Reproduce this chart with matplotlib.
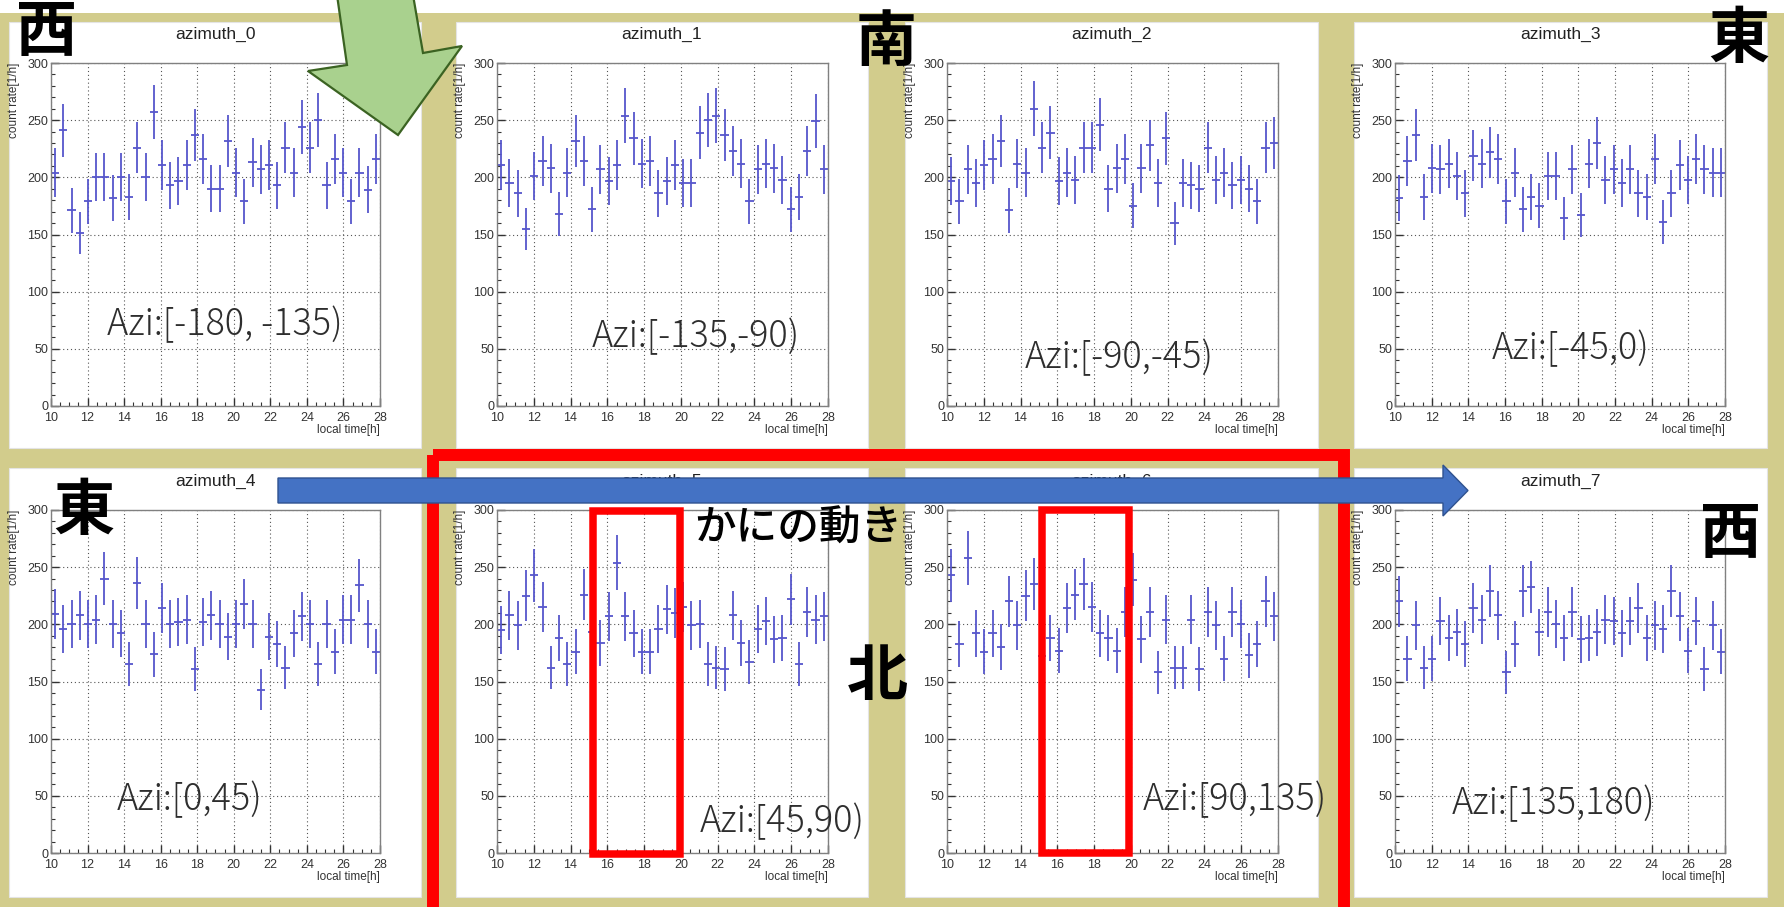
import numpy as np
import matplotlib
matplotlib.use("Agg")
import matplotlib.pyplot as plt
from matplotlib.patches import Rectangle, Polygon
from matplotlib.ticker import MultipleLocator

plt.rcParams['font.family'] = ['Liberation Sans', 'DejaVu Sans']

# count rate per 0.45 h bin, 40 bins from 10 h to 28 h
titles = ["azimuth_0", "azimuth_1", "azimuth_2", "azimuth_3",
          "azimuth_4", "azimuth_5", "azimuth_6", "azimuth_7"]
ranges = ["Azi:[-180, -135)", "Azi:[-135,-90)", "Azi:[-90,-45)", "Azi:[-45,0)",
          "Azi:[0,45)", "Azi:[45,90)", "Azi:[90,135)", "Azi:[135,180)"]

rate0 = [204, 241, 171, 151, 179, 200, 200, 182, 200, 183, 226, 200, 257, 211, 193, 197, 211, 237, 216, 190,
         190, 232, 204, 179, 213, 207, 211, 193, 226, 204, 244, 226, 250, 193, 216, 204, 179, 204, 189, 216]
rate1 = [211, 195, 186, 155, 201, 214, 208, 168, 204, 232, 214, 172, 207, 197, 211, 254, 234, 212, 214, 186,
         197, 211, 195, 195, 239, 250, 254, 237, 223, 212, 179, 207, 212, 208, 198, 172, 183, 223, 249, 207]
rate2 = [197, 179, 207, 195, 211, 216, 232, 171, 212, 204, 260, 226, 239, 197, 204, 198, 226, 226, 246, 190,
         208, 216, 175, 208, 228, 195, 234, 160, 195, 193, 190, 226, 198, 204, 193, 198, 190, 179, 226, 230]
rate3 = [182, 214, 237, 183, 208, 207, 212, 201, 186, 219, 212, 222, 216, 179, 204, 172, 183, 175, 201, 201,
         164, 207, 167, 212, 230, 198, 207, 195, 207, 186, 183, 216, 161, 186, 211, 198, 216, 207, 204, 204]
rate4 = [209, 196, 200, 208, 200, 204, 240, 200, 192, 165, 236, 200, 174, 214, 200, 202, 204, 161, 202, 208,
         200, 189, 200, 218, 200, 143, 189, 183, 162, 192, 207, 200, 165, 200, 176, 204, 204, 234, 200, 176]
rate5 = [195, 208, 199, 225, 243, 215, 162, 188, 165, 176, 226, 193, 184, 207, 254, 207, 192, 176, 176, 196,
         213, 210, 215, 199, 200, 165, 162, 161, 208, 184, 167, 196, 203, 187, 188, 222, 165, 211, 204, 207]
rate6 = [243, 183, 258, 192, 176, 192, 180, 220, 199, 225, 235, 172, 188, 177, 214, 226, 235, 215, 192, 188,
         177, 211, 239, 187, 211, 158, 204, 162, 162, 204, 161, 211, 199, 170, 211, 200, 173, 183, 220, 207]
rate7 = [220, 170, 199, 162, 170, 203, 188, 193, 183, 214, 204, 229, 208, 158, 183, 229, 233, 193, 211, 200,
         188, 211, 187, 188, 193, 204, 203, 192, 203, 214, 188, 199, 196, 229, 207, 177, 203, 161, 199, 176]
rates = [rate0, rate1, rate2, rate3, rate4, rate5, rate6, rate7]

W, H = 1787, 907
KHAKI = "#d2cc8c"
MARK = "#5656cc"

# pixel geometry of the slide
panel_x = [(9, 421), (456, 868), (905, 1318), (1354, 1767)]
panel_y = [(22, 448), (468, 897)]
axes_x = [(51, 380), (497, 828), (947, 1278), (1395, 1725)]
axes_y = [(63, 406), (510, 853)]
label_pos = [(107, 325), (592, 337), (1025, 358), (1492, 349),
             (117, 800), (700, 822), (1143, 800), (1452, 804)]


def box(x0, y0, x1, y1):
    return [x0 / W, 1 - y1 / H, (x1 - x0) / W, (y1 - y0) / H]


fig = plt.figure(figsize=(W / 100, H / 100), dpi=100)

bg = fig.add_axes([0, 0, 1, 1], zorder=0)
bg.set_xlim(0, W)
bg.set_ylim(H, 0)
bg.axis("off")
bg.add_patch(Rectangle((0, 13), 1784, H - 13, facecolor=KHAKI, edgecolor="none"))
for r in range(2):
    for c in range(4):
        x0, x1 = panel_x[c]
        y0, y1 = panel_y[r]
        bg.add_patch(Rectangle((x0, y0), x1 - x0, y1 - y0, facecolor="white",
                               edgecolor="#e4e4e4", linewidth=0.8))

edges = np.linspace(10, 28, 41)
centers = (edges[:-1] + edges[1:]) / 2
half = (edges[1] - edges[0]) / 2

ov = fig.add_axes([0, 0, 1, 1], zorder=5)
ov.set_xlim(0, W)
ov.set_ylim(H, 0)
ov.axis("off")
ov.patch.set_alpha(0)

for k in range(8):
    r, c = divmod(k, 4)
    ax = fig.add_axes(box(axes_x[c][0], axes_y[r][0], axes_x[c][1], axes_y[r][1]), zorder=1)
    ax.patch.set_alpha(0)
    y = np.array(rates[k], dtype=float)
    # Poisson error of N counts in a 0.45 h bin, expressed as a rate
    err = np.sqrt(y / (2 * half))
    ax.errorbar(centers, y, xerr=half, yerr=err, fmt="none",
                ecolor=MARK, elinewidth=1.3, capsize=0)
    ax.set_xlim(10, 28)
    ax.set_ylim(0, 300)
    ax.xaxis.set_major_locator(MultipleLocator(2))
    ax.xaxis.set_minor_locator(MultipleLocator(0.5))
    ax.yaxis.set_major_locator(MultipleLocator(50))
    ax.yaxis.set_minor_locator(MultipleLocator(10))
    ax.tick_params(which="both", direction="in", top=False, right=False,
                   colors="#333333", labelsize=9)
    ax.tick_params(which="major", length=6, width=1)
    ax.tick_params(which="minor", length=3, width=0.8)
    ax.tick_params(axis="x", pad=4)
    ax.tick_params(axis="y", pad=2)
    ax.grid(True, which="major", color="#555555", linestyle=(0, (1, 2.5)), linewidth=0.8)
    for s in ax.spines.values():
        s.set_color("#808080")
        s.set_linewidth(1)

    px0, px1 = panel_x[c]
    ax0, ax1 = axes_x[c]
    ay0, ay1 = axes_y[r]
    ov.text((px0 + px1) / 2, ay0 - 29, titles[k], ha="center", va="center",
            fontsize=12.5, color="#222222", zorder=1)
    ov.text(ax0 - 37, ay0, "count rate[1/h]", rotation=90, ha="center", va="top",
            fontsize=8.5, color="#333333", zorder=1)
    ov.text(ax1, ay1 + 24, "local time[h]", ha="right", va="center",
            fontsize=8.5, color="#333333", zorder=1)
    lx, ly = label_pos[k]
    ov.text(lx, ly, ranges[k], ha="left", va="center", fontsize=26,
            family=["Noto Sans CJK JP", "DejaVu Sans"], fontweight="light",
            color="#2e2e2e", zorder=2)

# red frames around the northern bins and the 16-20 h window
ov.add_patch(Rectangle((433, 454.5), 1343.5 - 433, 480, fill=False,
                       edgecolor="#ff0000", linewidth=8.6, zorder=2))
ov.add_patch(Rectangle((593, 511), 679.5 - 593, 853.5 - 511, fill=False,
                       edgecolor="#ff0000", linewidth=5.4, zorder=2))
ov.add_patch(Rectangle((1042, 509.5), 1128.5 - 1042, 852.5 - 509.5, fill=False,
                       edgecolor="#ff0000", linewidth=5.4, zorder=2))

# arrows
ov.add_patch(Polygon([(337, -5), (413, -5), (423, 53), (462, 46), (398, 135), (308, 71), (347, 65)],
                     closed=True, facecolor="#a9d18e", edgecolor="#3b6322", linewidth=1.6, zorder=3))
ov.add_patch(Polygon([(278, 478), (1443, 478), (1443, 465), (1468, 490.5), (1443, 516), (1443, 503), (278, 503)],
                     closed=True, facecolor="#4472c4", edgecolor="#2f528f", linewidth=1, zorder=4))

cjk = ["Noto Sans CJK JP", "DejaVu Sans"]
for txt, x, y in [("西", 47, 33), ("南", 886, 43), ("東", 1739, 40),
                  ("東", 84, 512), ("西", 1731, 535), ("北", 877, 677)]:
    ov.text(x, y, txt, ha="center", va="center", fontsize=44, fontweight="bold",
            family=cjk, color="black", zorder=5)
ov.text(798, 528, "かにの動き", ha="center", va="center", fontsize=30,
        family=cjk, fontweight="medium", color="black", zorder=5)

fig.savefig("out.png", dpi=100)
